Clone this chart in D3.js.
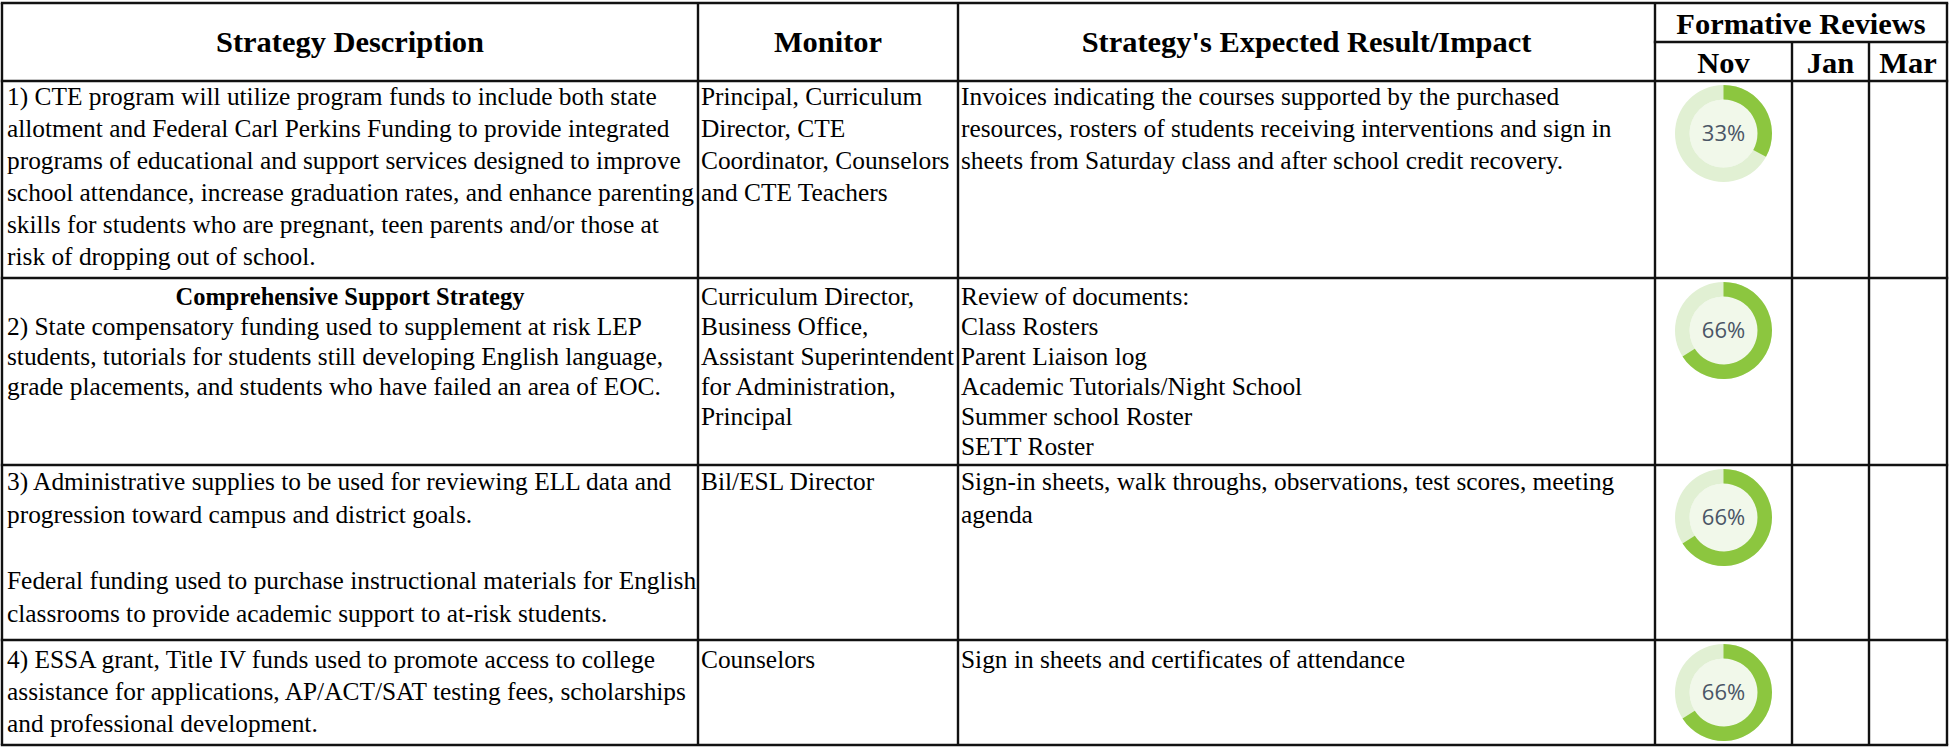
<!DOCTYPE html>
<html>
<head>
<meta charset="utf-8">
<script src="https://cdn.jsdelivr.net/npm/d3@7"></script>
<style>
  html, body { margin: 0; padding: 0; background: #fff; }
  svg { display: block; }
</style>
</head>
<body>
<div id="chart"></div>
<script>
// ---------------- data ----------------
const headers = ["Strategy Description", "Monitor", "Strategy's Expected Result/Impact"];
const reviewGroup = "Formative Reviews";
const reviewMonths = ["Nov", "Jan", "Mar"];

const descriptionTitles = ["", "Comprehensive Support Strategy", "", ""];
const descriptions = [
  ["1) CTE program will utilize program funds to include both state",
   "allotment and Federal Carl Perkins Funding to provide integrated",
   "programs of educational and support services designed to improve",
   "school attendance, increase graduation rates, and enhance parenting",
   "skills for students who are pregnant, teen parents and/or those at",
   "risk of dropping out of school."],
  ["2) State compensatory funding used to supplement at risk LEP",
   "students, tutorials for students still developing English language,",
   "grade placements, and students who have failed an area of EOC."],
  ["3) Administrative supplies to be used for reviewing ELL data and",
   "progression toward campus and district goals.",
   "",
   "Federal funding used to purchase instructional materials for English",
   "classrooms to provide academic support to at-risk students."],
  ["4) ESSA grant, Title IV funds used to promote access to college",
   "assistance for applications, AP/ACT/SAT testing fees, scholarships",
   "and professional development."]
];
const monitors = [
  ["Principal, Curriculum", "Director, CTE", "Coordinator, Counselors", "and CTE Teachers"],
  ["Curriculum Director,", "Business Office,", "Assistant Superintendent", "for Administration,", "Principal"],
  ["Bil/ESL Director"],
  ["Counselors"]
];
const results = [
  ["Invoices indicating the courses supported by the purchased",
   "resources, rosters of students receiving interventions and sign in",
   "sheets from Saturday class and after school credit recovery."],
  ["Review of documents:", "Class Rosters", "Parent Liaison log",
   "Academic Tutorials/Night School", "Summer school Roster", "SETT Roster"],
  ["Sign-in sheets, walk throughs, observations, test scores, meeting", "agenda"],
  ["Sign in sheets and certificates of attendance"]
];
const novReview = [33, 66, 66, 66];
const janReview = [null, null, null, null];
const marReview = [null, null, null, null];

// ---------------- font detection / fitting ----------------
const ctx = document.createElement("canvas").getContext("2d");
function textW(str, family, size, weight) {
  ctx.font = `${weight || "normal"} ${size}px ${family}`;
  return ctx.measureText(str).width;
}
const probe = "Strategy Description mmmwwwiiil 0123";
function hasFont(name) {
  const a = textW(probe, `"${name}", monospace`, 40);
  const b = textW(probe, `"${name}", sans-serif`, 40);
  const m = textW(probe, "monospace", 40);
  return Math.abs(a - b) < 0.01 && Math.abs(a - m) > 0.01;
}
const serifCandidates = ["Liberation Serif", "Tinos", "Times New Roman", "Nimbus Roman", "Times", "FreeSerif", "Noto Serif", "DejaVu Serif"];
const serifName = serifCandidates.find(hasFont) || "serif";
const bodyFont = `"${serifName}", serif`;

const bodySize = 25.5 * 650 / textW(descriptions[0][0], bodyFont, 25.5);
const headSize = 30.5 * 268 / textW(headers[0], bodyFont, 30.5, "bold");
const titleSize = 24.5 * 349 / textW(descriptionTitles[1], bodyFont, 24.5, "bold");

// ---------------- layout ----------------
const W = 1949, H = 747;
const colX = [2, 698, 958, 1655, 1792, 1869, 1947];
const tableTop = 3, subHeadY = 42, headBottom = 81;
const rowY = [81, 278, 465, 640, 745];
const rowLineH = [32, 30, 33, 32];
const rowFirstBase = [24, 27, 25, 28];

const svg = d3.select("#chart").append("svg")
  .attr("width", W).attr("height", H)
  .attr("viewBox", `0 0 ${W} ${H}`);

svg.append("rect").attr("width", W).attr("height", H).attr("fill", "#fff");

// header text
const headG = svg.append("g")
  .style("font-family", bodyFont).attr("font-weight", "bold")
  .attr("font-size", headSize).attr("fill", "#000").attr("text-anchor", "middle");
headG.selectAll("text.h").data(headers).join("text")
  .attr("class", "h")
  .attr("x", (d, i) => (colX[i] + colX[i + 1]) / 2)
  .attr("y", 52)
  .text(d => d);
headG.append("text")
  .attr("x", (colX[3] + colX[6]) / 2).attr("y", 33.5)
  .text(reviewGroup);
headG.selectAll("text.m").data(reviewMonths).join("text")
  .attr("class", "m")
  .attr("x", (d, i) => (colX[3 + i] + colX[4 + i]) / 2)
  .attr("y", 72.5)
  .text(d => d);

// body text
const bodyG = svg.append("g")
  .style("font-family", bodyFont).attr("font-size", bodySize).attr("fill", "#000");

function cellLines(g, lines, x, r, offset) {
  g.selectAll(null).data(lines).join("text")
    .attr("x", x)
    .attr("y", (d, i) => rowY[r] + rowFirstBase[r] + (i + offset) * rowLineH[r])
    .text(d => d);
}

descriptions.forEach((lines, r) => {
  let offset = 0;
  if (descriptionTitles[r]) {
    bodyG.append("text")
      .attr("x", (colX[0] + colX[1]) / 2)
      .attr("y", rowY[r] + rowFirstBase[r])
      .attr("text-anchor", "middle").attr("font-weight", "bold")
      .attr("font-size", titleSize)
      .text(descriptionTitles[r]);
    offset = 1;
  }
  cellLines(bodyG.append("g"), lines, colX[0] + 5, r, offset);
});
monitors.forEach((lines, r) => cellLines(bodyG.append("g"), lines, colX[1] + 3, r, 0));
results.forEach((lines, r) => cellLines(bodyG.append("g"), lines, colX[2] + 3, r, 0));

// donuts
const angle = d3.scaleLinear().domain([0, 100]).range([0, 2 * Math.PI]);
const rOuter = 48.5, rInner = 34;
const ring = d3.arc().innerRadius(rInner).outerRadius(rOuter);
const reviewCols = [novReview, janReview, marReview];

reviewCols.forEach((vals, c) => {
  const cx = (colX[3 + c] + colX[4 + c]) / 2;
  vals.forEach((v, r) => {
    if (v == null) return;
    const g = svg.append("g").attr("transform", `translate(${cx},${rowY[r] + 52.5})`);
    g.append("circle").attr("r", rInner).attr("fill", "#f1f8ea");
    g.append("path").attr("d", ring({ startAngle: 0, endAngle: angle(100) })).attr("fill", "#e1f0d3");
    g.append("path").attr("d", ring({ startAngle: 0, endAngle: angle(v) })).attr("fill", "#8cc63f");
    g.append("text")
      .attr("text-anchor", "middle").attr("dy", "0.36em")
      .style("font-family", "'Open Sans', 'Noto Sans', sans-serif")
      .attr("font-size", 22).attr("fill", "#4a5566")
      .text(v + "%");
  });
});

// grid lines
const gridG = svg.append("g").attr("stroke", "#111").attr("stroke-width", 2.4).attr("fill", "none");
const hLines = [
  [colX[0], colX[6], tableTop],
  [colX[3], colX[6], subHeadY],
  [colX[0], colX[6], headBottom],
  ...rowY.slice(1).map(y => [colX[0], colX[6], y])
];
gridG.selectAll("line.h").data(hLines).join("line")
  .attr("class", "h")
  .attr("x1", d => d[0] - 1.2).attr("x2", d => d[1] + 1.2)
  .attr("y1", d => d[2]).attr("y2", d => d[2]);
const vLines = colX.map((x, i) => [x, (i === 4 || i === 5) ? subHeadY : tableTop, rowY[rowY.length - 1]]);
gridG.selectAll("line.v").data(vLines).join("line")
  .attr("class", "v")
  .attr("x1", d => d[0]).attr("x2", d => d[0])
  .attr("y1", d => d[1]).attr("y2", d => d[2]);
</script>
</body>
</html>
